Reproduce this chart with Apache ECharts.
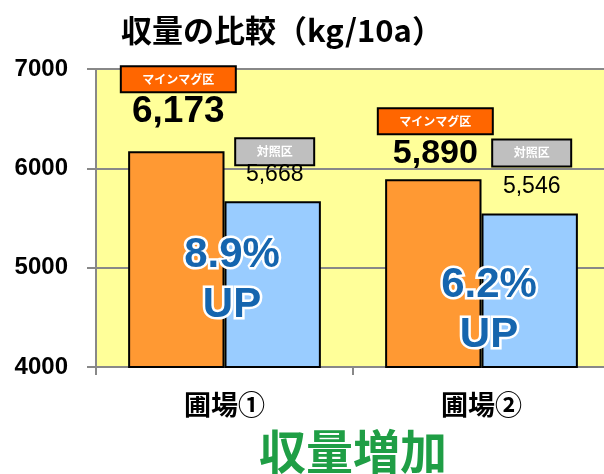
<!DOCTYPE html>
<html>
<head>
<meta charset="utf-8">
<script src="https://cdn.jsdelivr.net/npm/echarts@6/dist/echarts.min.js"></script>
<style>
html, body { margin: 0; padding: 0; background: #fff; }
#chart { width: 604px; height: 474px; }
</style>
</head>
<body>
<div id="chart"></div>
<script>
// data
const categories = ['圃場①', '圃場②'];
const mainValues = [6173, 5890];   // マインマグ区
const ctrlValues = [5668, 5546];   // 対照区
const seriesNames = ['マインマグ区', '対照区'];
const yTicks = [4000, 5000, 6000, 7000];
const upRates = ['8.9%', '6.2%'];

const jp = '"Noto Sans CJK JP", sans-serif';
const num = '"Liberation Sans", "Noto Sans", sans-serif';
const fmt = v => v.toLocaleString('en-US');

const chart = echarts.init(document.getElementById('chart'));

const option = {
  animation: false,
  title: {
    text: '収量の比較（kg/10a）',
    left: 116,
    top: 10,
    textStyle: { fontFamily: jp, fontSize: 31, fontWeight: 'bold', color: '#000' }
  },
  grid: {
    left: 96, top: 69, width: 514, bottom: 107,
    outerBoundsMode: 'none',
    show: true, backgroundColor: '#FFFF99', borderWidth: 0
  },
  xAxis: {
    type: 'category',
    data: categories,
    axisLine: { lineStyle: { color: '#888', width: 2 } },
    axisTick: { show: true, length: 8, lineStyle: { color: '#888', width: 2 } },
    axisLabel: { margin: 24, fontFamily: jp, fontSize: 27, fontWeight: 'bold', color: '#000' }
  },
  yAxis: {
    type: 'value',
    min: yTicks[0],
    max: yTicks[yTicks.length - 1],
    interval: yTicks[1] - yTicks[0],
    axisLine: { show: true, lineStyle: { color: '#888', width: 2 } },
    axisTick: { show: true, length: 9, lineStyle: { color: '#888', width: 2 } },
    splitLine: { lineStyle: { color: '#888', width: 2 } },
    axisLabel: {
      margin: 28, fontFamily: num, fontSize: 24, fontWeight: 'bold', color: '#000',
      formatter: v => String(v)
    }
  },
  series: [
    {
      name: seriesNames[0],
      type: 'bar',
      barGap: '0%',
      barCategoryGap: '25%',
      itemStyle: { color: '#FF9933', borderColor: '#000', borderWidth: 2 },
      data: mainValues.map((v, i) => ({ value: v, label: { distance: i === 0 ? 18 : 6 } })),
      label: {
        show: true,
        position: 'top',
        offset: [2, 0],
        formatter: p => `{box|${seriesNames[0]}}\n{${p.dataIndex === 0 ? 'big' : 'val'}|${fmt(p.value)}}`,
        rich: {
          box: {
            width: 113, height: 24, align: 'center',
            backgroundColor: '#FF6600', borderColor: '#000', borderWidth: 2,
            color: '#fff', fontFamily: jp, fontSize: 12, fontWeight: 'bold'
          },
          big: { fontFamily: num, fontSize: 37, fontWeight: 'bold', color: '#000', lineHeight: 42, align: 'center' },
          val: { fontFamily: num, fontSize: 34, fontWeight: 'bold', color: '#000', lineHeight: 40, align: 'center' }
        }
      }
    },
    {
      name: seriesNames[1],
      type: 'bar',
      itemStyle: { color: '#99CCFF', borderColor: '#000', borderWidth: 2 },
      data: ctrlValues,
      label: {
        show: true,
        position: 'top',
        distance: 16,
        offset: [2, 0],
        formatter: p => `{box|${seriesNames[1]}}\n${p.dataIndex === 1 ? '{sp| }\n' : ''}{val|${fmt(p.value)}}`,
        rich: {
          box: {
            width: 77, height: 25, align: 'center',
            backgroundColor: '#BFBFBF', borderColor: '#000', borderWidth: 2,
            color: '#fff', fontFamily: jp, fontSize: 12, fontWeight: 'bold'
          },
          sp: { fontSize: 8, lineHeight: 11 },
          val: { fontFamily: num, fontSize: 23, color: '#000', lineHeight: 21, align: 'center' }
        }
      }
    }
  ]
};

chart.setOption(option);

// "xx% UP" notes sitting on each pair of bars, plus the bottom caption
const upPos = [[232, 280], [489, 310]];
const graphics = upRates.map((r, i) => ({
  type: 'text',
  x: upPos[i][0],
  y: upPos[i][1],
  z: 100,
  style: {
    text: r + '\nUP',
    font: 'bold 42px "Liberation Sans", sans-serif',
    lineHeight: 50,
    textAlign: 'center',
    textVerticalAlign: 'middle',
    fill: '#1565AE',
    stroke: '#fff',
    lineWidth: 5,
    shadowBlur: 4,
    shadowColor: 'rgba(0,0,0,0.45)',
    shadowOffsetX: 2,
    shadowOffsetY: 2
  }
}));
graphics.push({
  type: 'text',
  x: 353,
  y: 451,
  z: 100,
  style: {
    text: '収量増加',
    font: 'bold 47px "Noto Sans CJK JP", sans-serif',
    textAlign: 'center',
    textVerticalAlign: 'middle',
    fill: '#1F9E45',
    stroke: '#fff',
    lineWidth: 4,
    shadowBlur: 4,
    shadowColor: 'rgba(0,0,0,0.45)',
    shadowOffsetX: 2,
    shadowOffsetY: 2
  }
});
chart.setOption({ graphic: graphics });
</script>
</body>
</html>
